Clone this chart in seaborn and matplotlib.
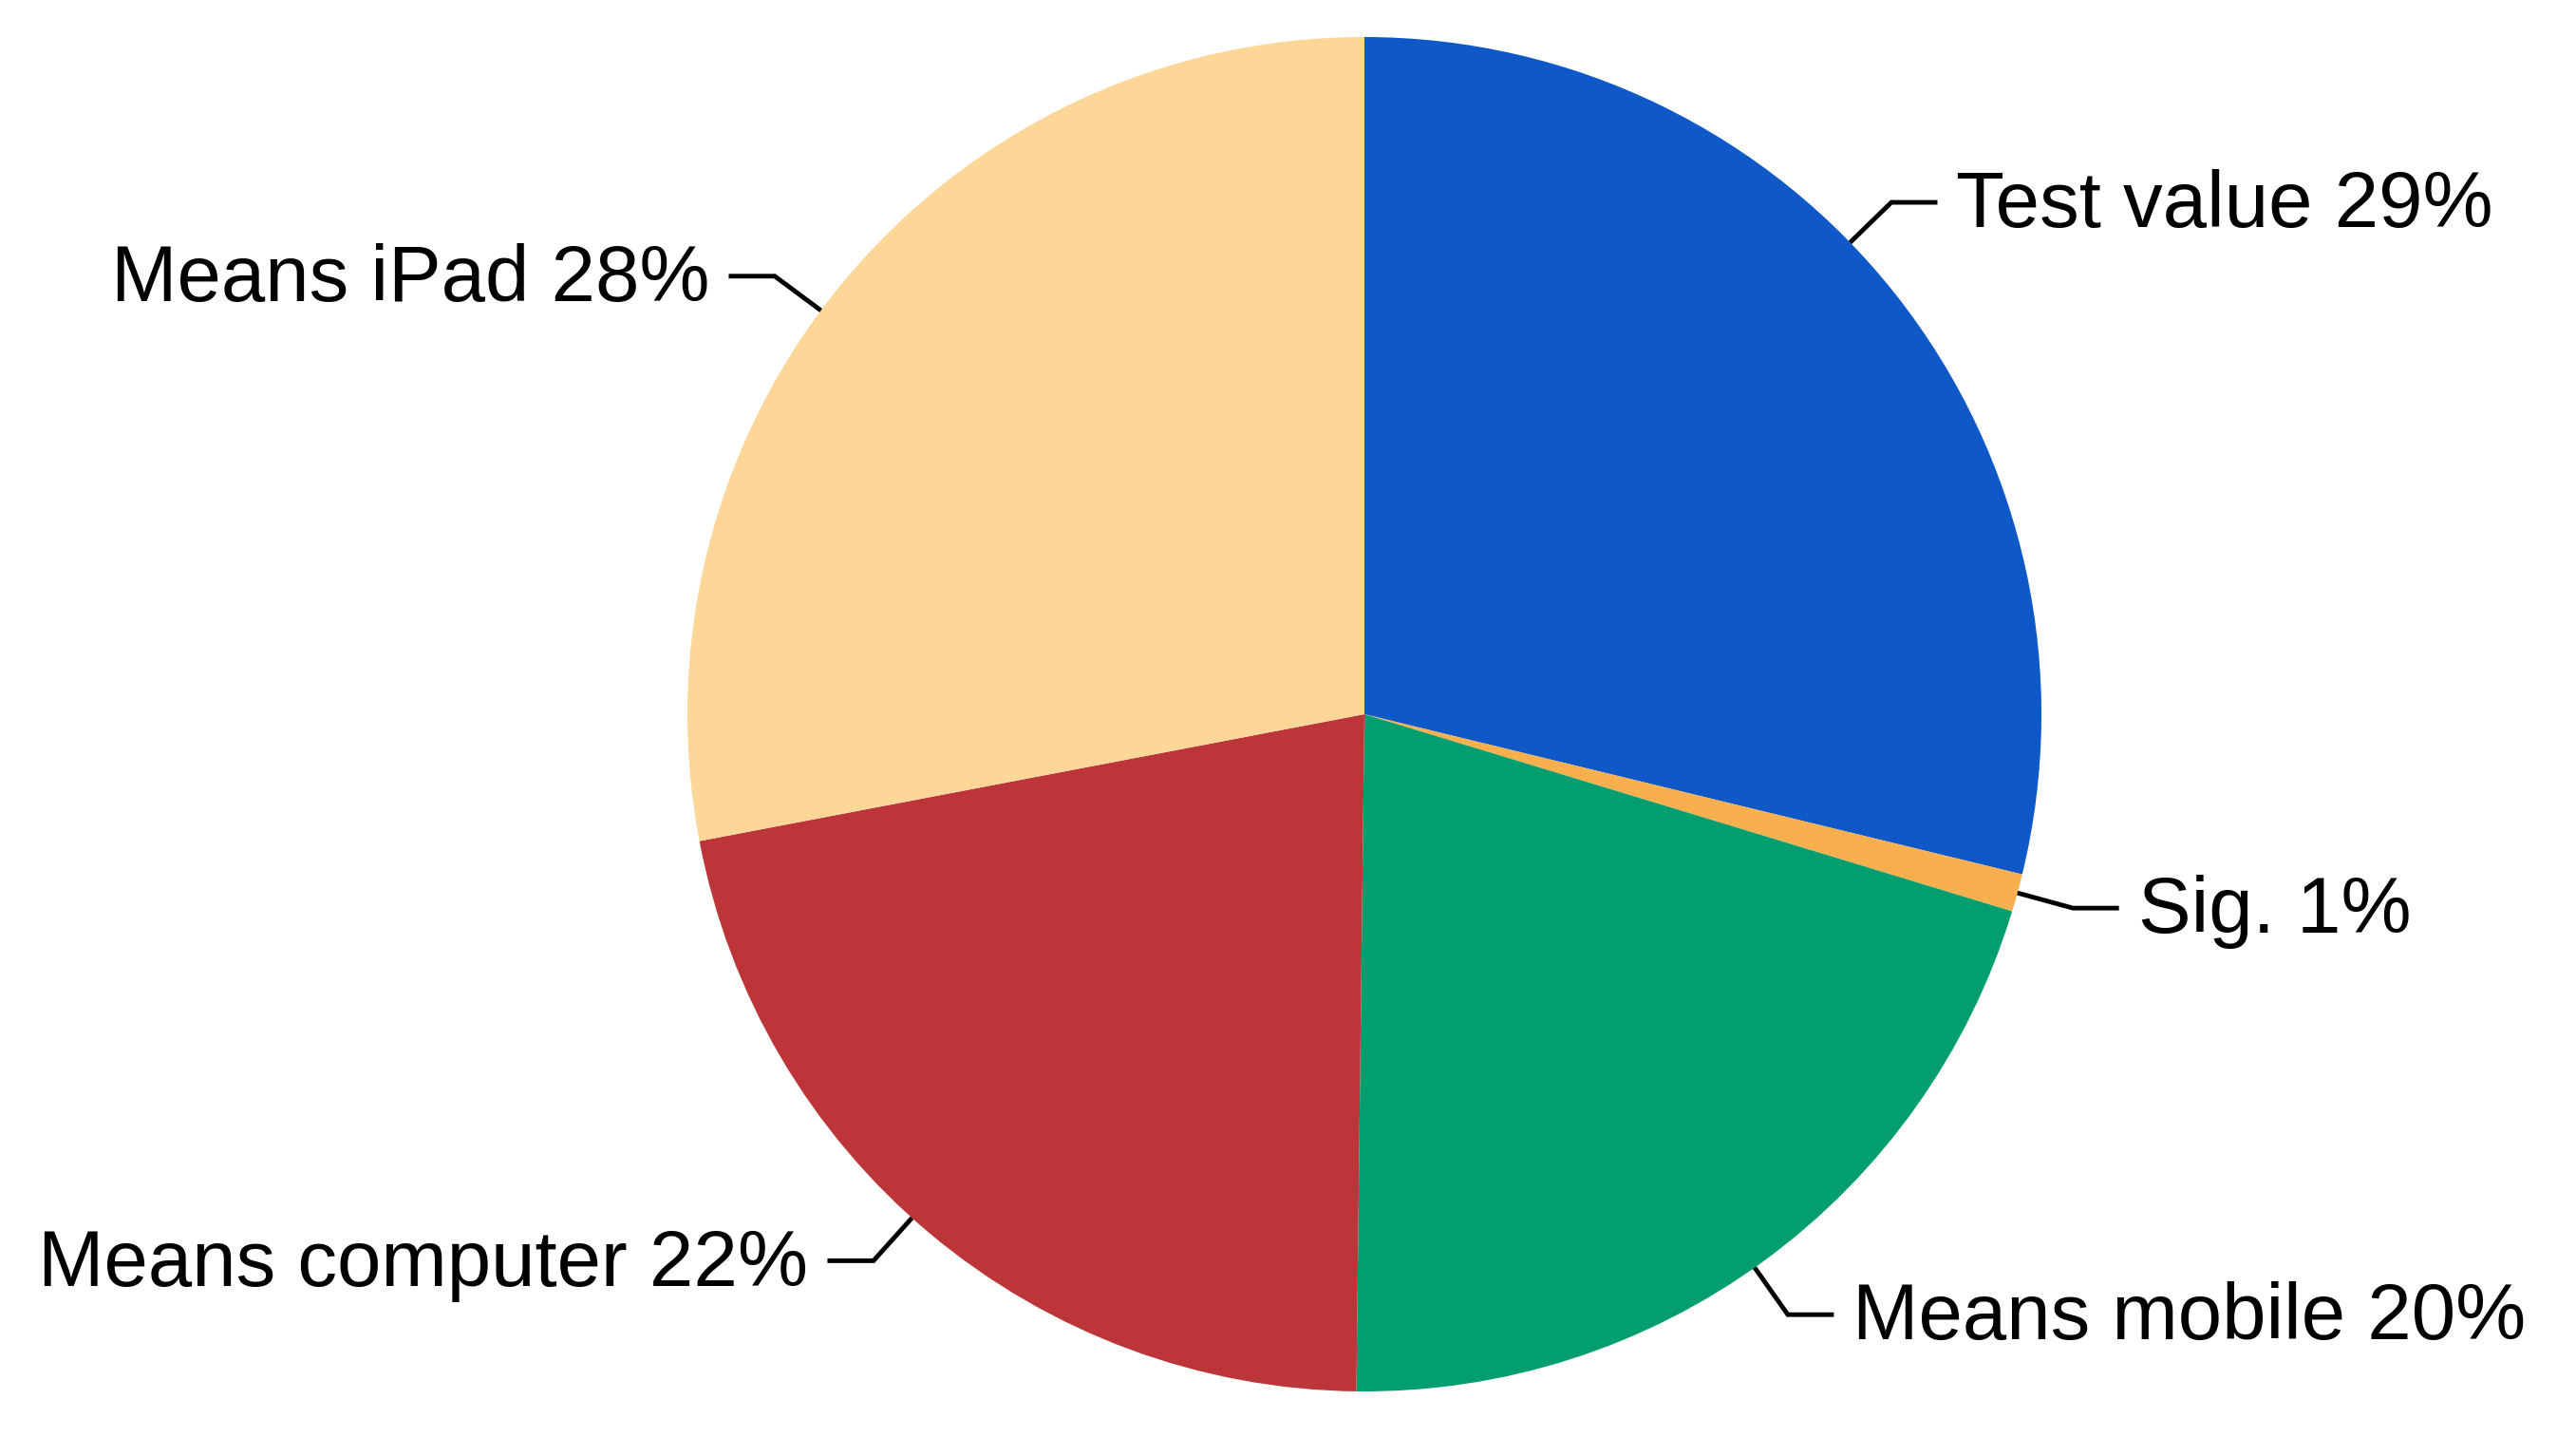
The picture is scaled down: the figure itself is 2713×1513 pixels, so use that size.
import numpy as np
import matplotlib
matplotlib.use("Agg")
import matplotlib.pyplot as plt
import seaborn as sns

# Share of each group (percent)
labels = ["Test value", "Sig.", "Means mobile", "Means computer", "Means iPad"]
values = [28.8, 0.9, 20.49, 21.81, 28.0]
colors = ["#0E58C8", "#F8B04E", "#029E6E", "#BC3538", "#FDD698"]

# small angle nudges for the label leaders (degrees), layout only
nudge = [6, 0, -1, -2, 3]

sns.set_theme(style="white")
plt.rcParams["font.family"] = ["Liberation Sans", "DejaVu Sans"]

fig = plt.figure(figsize=(27.13, 15.13), dpi=100)
ax = fig.add_axes([0, 0, 1, 1])

wedges, _ = ax.pie(
    values,
    colors=sns.color_palette(colors),
    startangle=90,
    counterclock=False,
    radius=1.0,
    wedgeprops=dict(linewidth=0),
)

total = sum(values)
for w, lab, v, dn in zip(wedges, labels, values, nudge):
    mid = (w.theta1 + w.theta2) / 2 + dn
    a = np.deg2rad(mid)
    x0, y0 = np.cos(a) * 1.0, np.sin(a) * 1.0
    x1, y1 = np.cos(a) * 1.085, np.sin(a) * 1.085
    side = 1 if np.cos(a) >= 0 else -1
    x2 = x1 + side * 0.068
    ax.plot([x0, x1, x2], [y0, y1, y1], color="black", lw=3.5,
            solid_capstyle="butt", solid_joinstyle="miter")
    ax.text(x2 + side * 0.028, y1 - 0.006, f"{lab} {round(v / total * 100)}%",
            ha="left" if side > 0 else "right", va="center",
            fontsize=60, color="black")

ax.set_aspect("equal")
ax.set_xlim(-1437 / 713, (2713 - 1437) / 713)
ax.set_ylim(-(1513 - 752) / 713, 752 / 713)
ax.axis("off")

fig.savefig("out.png", dpi=100, facecolor="white")
